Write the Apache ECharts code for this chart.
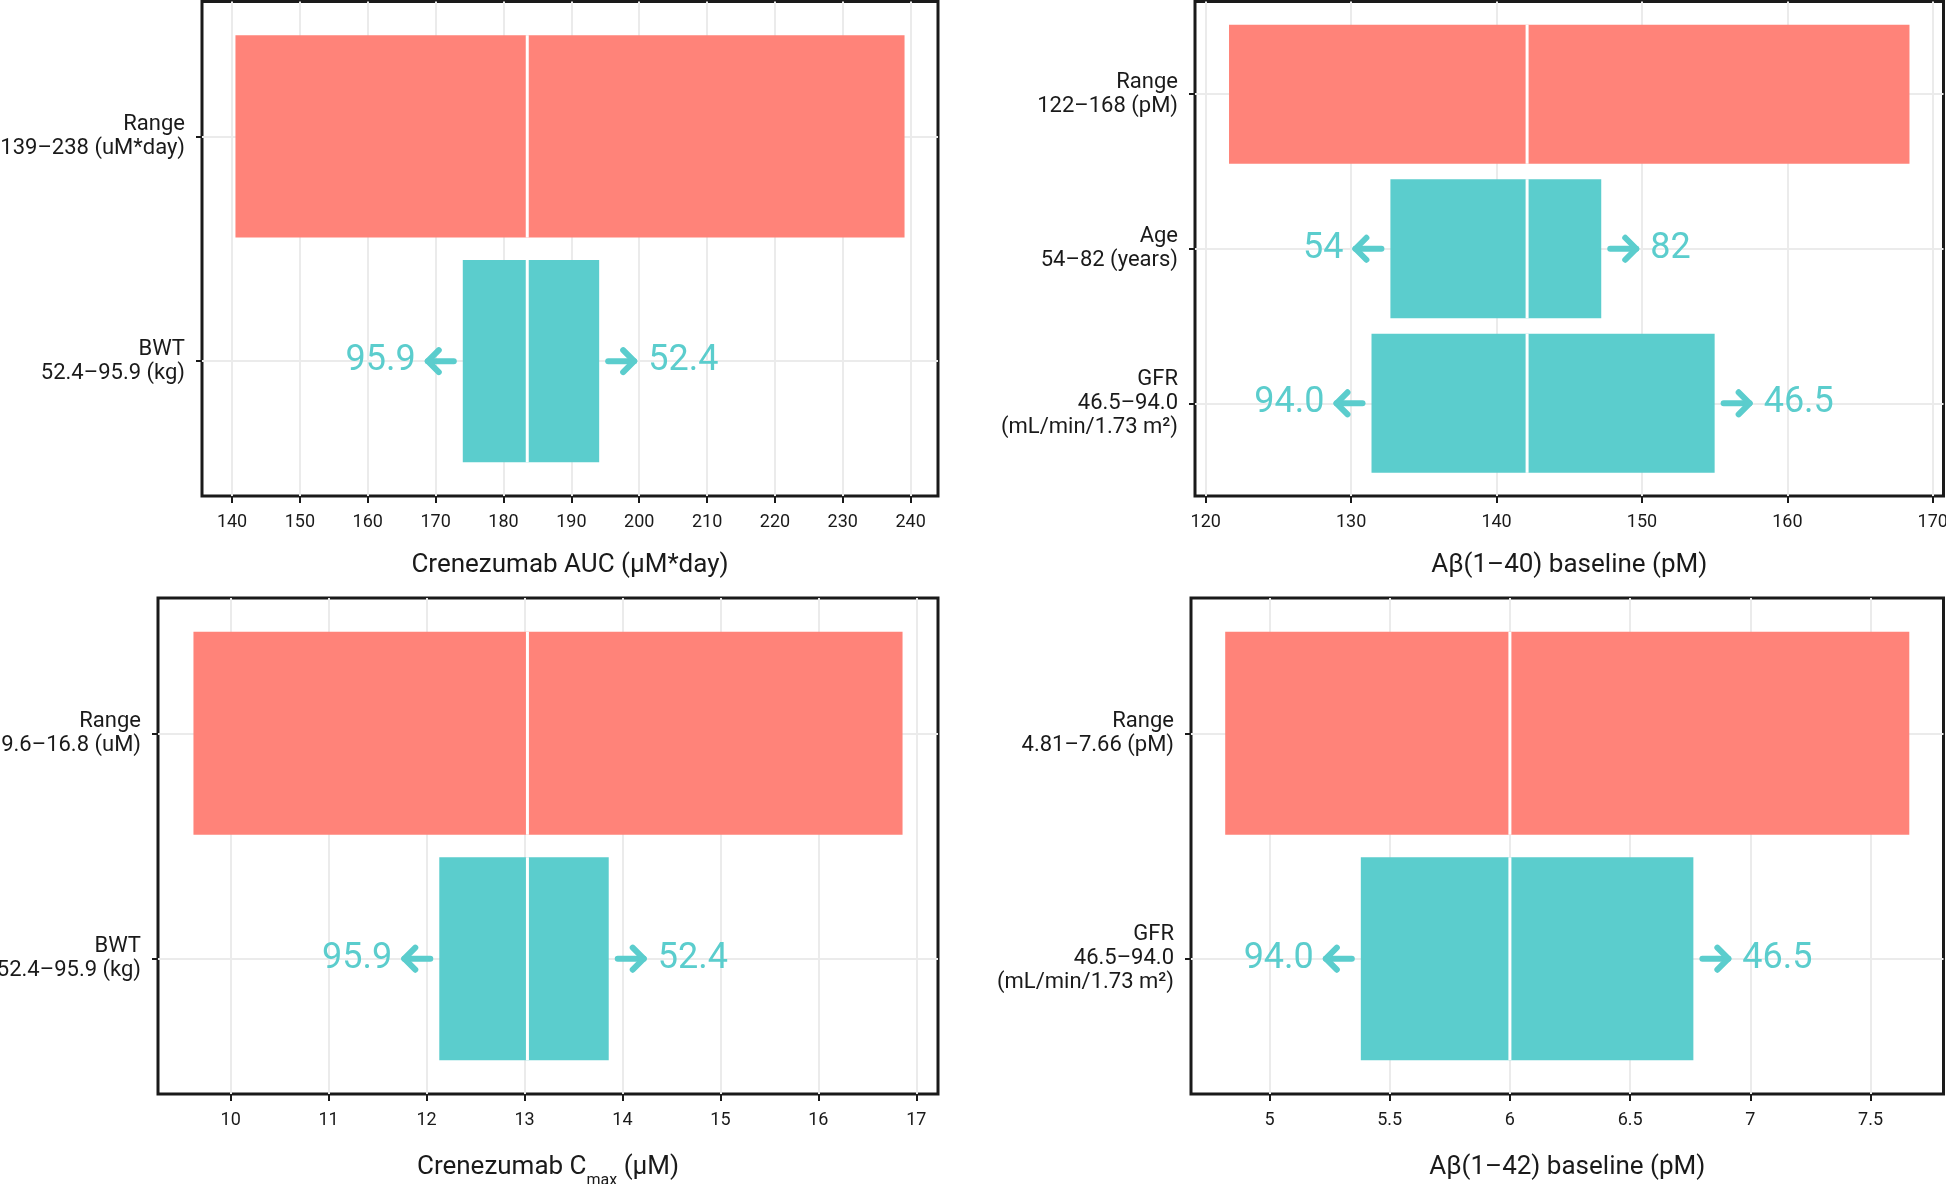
<!DOCTYPE html>
<html>
<head>
<meta charset="utf-8">
<title>Crenezumab exposure tornado plots</title>
<script src="https://cdn.jsdelivr.net/npm/echarts@6/dist/echarts.min.js"></script>
<style>
    html, body { margin: 0; padding: 0; background: #fff; }
    #chart { width: 1946px; height: 1184px; }
</style>
</head>
<body>
<div id="chart"></div>
<script>
// 左上: Crenezumab AUC
var auc_rows = ['Range\n139–238 (uM*day)', 'BWT\n52.4–95.9 (kg)'];
var auc_low = [140.5, 174.0];
var auc_high = [239.1, 194.1];
var auc_ref = 183.5;
var auc_left = ['', '95.9'];
var auc_right = ['', '52.4'];
var auc_ticks = [140, 150, 160, 170, 180, 190, 200, 210, 220, 230, 240];

// 右上: Aβ(1-40) baseline
var ab40_rows = ['Range\n122–168 (pM)', 'Age\n54–82 (years)', 'GFR\n46.5–94.0\n(mL/min/1.73 m²)'];
var ab40_low = [121.6, 132.7, 131.4];
var ab40_high = [168.4, 147.2, 155.0];
var ab40_ref = 142.1;
var ab40_left = ['', '54', '94.0'];
var ab40_right = ['', '82', '46.5'];
var ab40_ticks = [120, 130, 140, 150, 160, 170];

// 左下: Crenezumab Cmax
var cmax_rows = ['Range\n9.6–16.8 (uM)', 'BWT\n52.4–95.9 (kg)'];
var cmax_low = [9.62, 12.13];
var cmax_high = [16.86, 13.86];
var cmax_ref = 13.03;
var cmax_left = ['', '95.9'];
var cmax_right = ['', '52.4'];
var cmax_ticks = [10, 11, 12, 13, 14, 15, 16, 17];

// 右下: Aβ(1-42) baseline
var ab42_rows = ['Range\n4.81–7.66 (pM)', 'GFR\n46.5–94.0\n(mL/min/1.73 m²)'];
var ab42_low = [4.816, 5.38];
var ab42_high = [7.661, 6.763];
var ab42_ref = 6.0;
var ab42_left = ['', '94.0'];
var ab42_right = ['', '46.5'];
var ab42_ticks = [5, 5.5, 6, 6.5, 7, 7.5];

var RANGE_COLOR = '#FF8379';
var COV_COLOR = '#5BCDCD';
var INK = '#1a1a1a';
var FONT = 'Roboto, "Noto Sans", sans-serif';

var panels = [
    {rows: auc_rows, low: auc_low, high: auc_high, ref: auc_ref, left: auc_left, right: auc_right, ticks: auc_ticks,
        name: 'Crenezumab AUC (μM*day)', nameGap: 56,
        grid: {left: 202, right: 1008, top: 1.5, bottom: 688}},
    {rows: ab40_rows, low: ab40_low, high: ab40_high, ref: ab40_ref, left: ab40_left, right: ab40_right, ticks: ab40_ticks,
        name: 'Aβ(1–40) baseline (pM)', nameGap: 56,
        grid: {left: 1195, right: 2.5, top: 1.5, bottom: 688}},
    {rows: cmax_rows, low: cmax_low, high: cmax_high, ref: cmax_ref, left: cmax_left, right: cmax_right, ticks: cmax_ticks,
        name: '{t|Crenezumab C}{s|max}{t| (μM)}', nameGap: 60,
        grid: {left: 158, right: 1008, top: 598, bottom: 90}},
    {rows: ab42_rows, low: ab42_low, high: ab42_high, ref: ab42_ref, left: ab42_left, right: ab42_right, ticks: ab42_ticks,
        name: 'Aβ(1–42) baseline (pM)', nameGap: 60,
        grid: {left: 1191, right: 2.5, top: 598, bottom: 90}}
];

var numStyle = {fill: COV_COLOR, fontSize: 36, fontWeight: 'normal', fontFamily: FONT};
var arrowStyle = {stroke: COV_COLOR, fill: null, lineWidth: 6, lineCap: 'round', lineJoin: 'round'};

//箭头: 从 tail 指向 tip
function arrow(tail, tip, y) {
    var d = tip > tail ? -1 : 1;
    return [
        {type: 'polyline', shape: {points: [[tail, y], [tip, y]]}, style: arrowStyle},
        {type: 'polyline', shape: {points: [[tip + d * 11, y - 11], [tip, y], [tip + d * 11, y + 11]]}, style: arrowStyle}
    ];
}

//画出每一行的条形 (低值→参考值, 参考值→高值)
function makeRender(panel) {
    return function (params, api) {
        var i = params.dataIndex;
        var pos = api.value(0);
        var a = api.coord([api.value(1), pos]);
        var m = api.coord([api.value(2), pos]);
        var b = api.coord([api.value(3), pos]);
        var h = api.size([0, 0.9])[1];
        var top = a[1] - h / 2;
        var color = i === 0 ? RANGE_COLOR : COV_COLOR;

        var children = [
            {type: 'rect', shape: {x: a[0], y: top, width: m[0] - a[0], height: h}, style: {fill: color}},
            {type: 'rect', shape: {x: m[0], y: top, width: b[0] - m[0], height: h}, style: {fill: color}},
            {type: 'line', shape: {x1: m[0], y1: top, x2: m[0], y2: top + h}, style: {stroke: '#fff', lineWidth: 3}}
        ];
        if (panel.left[i]) {
            children = children.concat(arrow(a[0] - 9, a[0] - 35, a[1]));
            children.push({
                type: 'text', x: a[0] - 47, y: a[1],
                style: Object.assign({text: panel.left[i], align: 'right', verticalAlign: 'middle'}, numStyle)
            });
        }
        if (panel.right[i]) {
            children = children.concat(arrow(b[0] + 9, b[0] + 35, b[1]));
            children.push({
                type: 'text', x: b[0] + 49, y: b[1],
                style: Object.assign({text: panel.right[i], align: 'left', verticalAlign: 'middle'}, numStyle)
            });
        }
        return {type: 'group', children: children};
    };
}

var option = {
    backgroundColor: '#fff',
    animation: false,
    textStyle: {fontFamily: FONT},
    grid: [],
    xAxis: [],
    yAxis: [],
    series: []
};

panels.forEach(function (p, k) {
    var yPos = p.rows.map(function (r, i) { return i + 1; });

    option.grid.push(Object.assign({
        show: true,
        borderColor: INK,
        borderWidth: 3,
        backgroundColor: 'transparent',
        containLabel: false,
        outerBoundsMode: 'none'
    }, p.grid));

    option.xAxis.push({
        type: 'value',
        gridIndex: k,
        // ggplot 风格: 两侧各扩展 5%
        min: function (e) { return e.min - 0.05 * (e.max - e.min); },
        max: function (e) { return e.max + 0.05 * (e.max - e.min); },
        axisLine: {show: false},
        axisTick: {show: true, length: 7, lineStyle: {color: INK, width: 2}, customValues: p.ticks},
        axisLabel: {color: INK, fontSize: 18, margin: 17, fontFamily: FONT, customValues: p.ticks},
        splitLine: {show: true, lineStyle: {color: '#EBEBEB', width: 2}},
        name: p.name,
        nameLocation: 'middle',
        nameGap: p.nameGap,
        nameTextStyle: {
            color: INK, fontSize: 26, fontFamily: FONT,
            rich: {
                t: {color: INK, fontSize: 26, fontFamily: FONT, lineHeight: 27, verticalAlign: 'top'},
                s: {color: INK, fontSize: 16, fontFamily: FONT, lineHeight: 16, padding: [19, 0, 0, 0], verticalAlign: 'top'}
            }
        }
    });

    option.yAxis.push({
        type: 'value',
        gridIndex: k,
        inverse: true,
        min: 0.4,
        max: p.rows.length + 0.6,
        axisLine: {show: false},
        axisTick: {show: true, length: 6, lineStyle: {color: INK, width: 2}, customValues: yPos},
        axisLabel: {
            color: INK, fontSize: 22, lineHeight: 24, margin: 17, fontFamily: FONT, align: 'right',
            customValues: yPos,
            formatter: function (v) { return p.rows[Math.round(v) - 1] || ''; }
        },
        splitLine: {show: true, lineStyle: {color: '#EBEBEB', width: 2}}
    });

    option.series.push({
        type: 'custom',
        xAxisIndex: k,
        yAxisIndex: k,
        renderItem: makeRender(p),
        encode: {x: [1, 2, 3], y: 0},
        data: p.rows.map(function (r, i) { return [i + 1, p.low[i], p.ref, p.high[i]]; })
    });
});

var chart = echarts.init(document.getElementById('chart'));
chart.setOption(option);
</script>
</body>
</html>
